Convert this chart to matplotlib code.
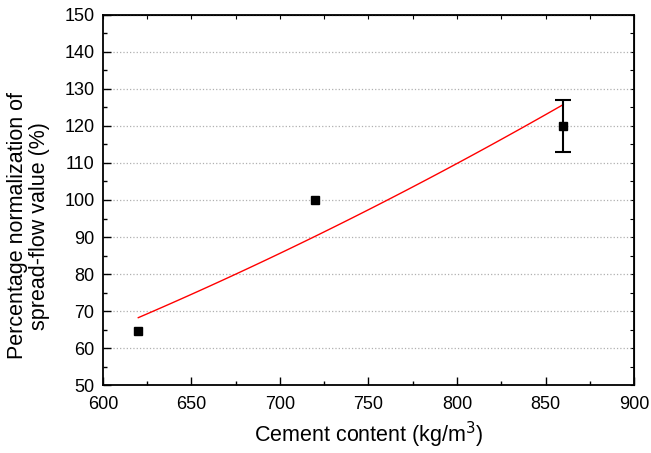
import numpy as np
import matplotlib.pyplot as plt
from matplotlib.ticker import MultipleLocator

plt.rcParams['font.family'] = ['Liberation Sans', 'DejaVu Sans']

cement = [620, 720, 860]
spread_pct = [64.5, 100, 120]
spread_err = [0, 0, 7]

# power-law fit y = a * x^b done in log-log space
b, ln_a = np.polyfit(np.log(cement), np.log(spread_pct), 1)
x_fit = np.linspace(cement[0], cement[-1], 100)
y_fit = np.exp(ln_a) * x_fit ** b

fig = plt.figure(figsize=(6.51, 4.53), dpi=100)
ax = fig.add_axes([0.158, 0.150, 0.816, 0.817])

ax.plot(x_fit, y_fit, color='red', lw=1.0, zorder=2)
ax.plot(cement, spread_pct, 's', color='black', ms=6, zorder=3)
# error bars only where a spread was measured
has_err = [i for i, e in enumerate(spread_err) if e > 0]
ax.errorbar([cement[i] for i in has_err], [spread_pct[i] for i in has_err],
            yerr=[spread_err[i] for i in has_err], fmt='none', ecolor='black',
            elinewidth=1.5, capsize=6, capthick=1.5, zorder=3)

ax.set_xlim(600, 900)
ax.set_ylim(50, 150)
ax.xaxis.set_major_locator(MultipleLocator(50))
ax.xaxis.set_minor_locator(MultipleLocator(25))
ax.yaxis.set_major_locator(MultipleLocator(10))
ax.yaxis.set_minor_locator(MultipleLocator(5))

ax.grid(axis='y', which='major', linestyle=':', color='#b0b0b0', lw=0.9)
ax.set_axisbelow(True)

ax.tick_params(which='major', direction='in', length=6, width=1, labelsize=13)
ax.tick_params(axis='x', which='major', pad=8)
ax.tick_params(axis='y', which='major', pad=6)
ax.tick_params(which='minor', direction='in', length=3, width=1)
for s in ax.spines.values():
    s.set_linewidth(1.3)

# small ticks on top and right frame edges
top = ax.secondary_xaxis('top')
top.xaxis.set_major_locator(MultipleLocator(25))
top.tick_params(direction='in', length=3, labeltop=False)
right = ax.secondary_yaxis('right')
right.yaxis.set_major_locator(MultipleLocator(5))
right.tick_params(direction='in', length=3, labelright=False)

ax.set_xlabel('Cement content (kg/m$^3$)', fontsize=15.5, labelpad=5)
ax.set_ylabel('Percentage normalization of\nspread-flow value (%)', fontsize=15.5,
              linespacing=1.05)
ax.yaxis.set_label_coords(-0.10, 0.43)

fig.savefig('out.png', dpi=100)
